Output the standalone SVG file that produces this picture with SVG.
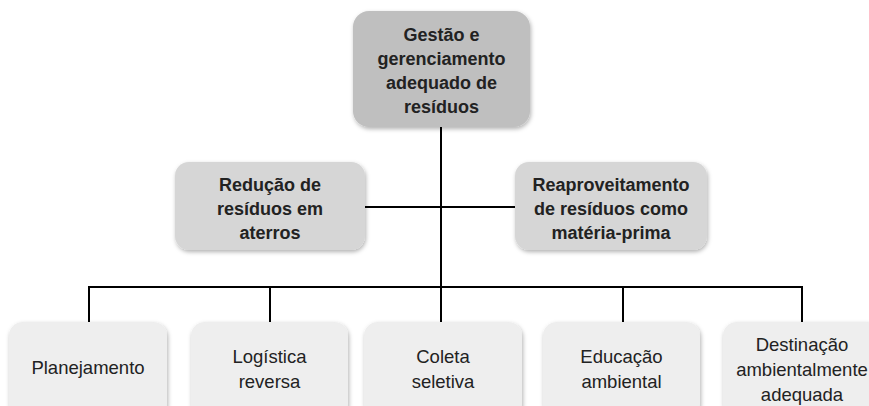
<svg xmlns="http://www.w3.org/2000/svg" width="869" height="406" viewBox="0 0 869 406">
<defs>
<filter id="sh" x="-10%" y="-10%" width="125%" height="130%">
<feDropShadow dx="1" dy="2" stdDeviation="2" flood-color="#000" flood-opacity="0.3"/>
</filter>
<style>
.box{stroke:none;filter:url(#sh)}
.l1{fill:#bfbfbf}
.l2{fill:#d6d6d6}
.l3{fill:#eeeeee}
.tb{font-family:"Liberation Sans",Arial,sans-serif;font-weight:bold;font-size:18px;fill:#222;text-anchor:middle}
.tr{font-family:"Liberation Sans",Arial,sans-serif;font-size:18.5px;fill:#222;text-anchor:middle}
.c{stroke:#000;stroke-width:2;fill:none}
</style>
</defs>
<rect width="869" height="406" fill="#fff"/>
<g id="connectors">
<line class="c" x1="441" y1="127" x2="441" y2="322"/>
<line class="c" x1="365" y1="207" x2="515" y2="207"/>
<polyline class="c" points="89,322 89,287 802,287 802,322"/>
<line class="c" x1="270" y1="287" x2="270" y2="322"/>
<line class="c" x1="623" y1="287" x2="623" y2="322"/>
</g>
<g id="root">
<rect class="box l1" x="353" y="11" width="177" height="116" rx="16"/>
<text class="tb" x="441.5" y="41">Gestão e</text>
<text class="tb" x="441.5" y="65">gerenciamento</text>
<text class="tb" x="441.5" y="89">adequado de</text>
<text class="tb" x="441.5" y="113">resíduos</text>
</g>
<g id="reducao">
<rect class="box l2" x="175" y="162" width="190" height="88" rx="14"/>
<text class="tb" x="270" y="191">Redução de</text>
<text class="tb" x="270" y="215">resíduos em</text>
<text class="tb" x="270" y="239">aterros</text>
</g>
<g id="reaproveitamento">
<rect class="box l2" x="515" y="162" width="192" height="88" rx="14"/>
<text class="tb" x="611" y="191">Reaproveitamento</text>
<text class="tb" x="611" y="215">de resíduos como</text>
<text class="tb" x="611" y="239">matéria-prima</text>
</g>
<g id="planejamento">
<rect class="box l3" x="9" y="322" width="158" height="96" rx="14"/>
<text class="tr" x="88" y="374">Planejamento</text>
</g>
<g id="logistica">
<rect class="box l3" x="191" y="322" width="157" height="96" rx="14"/>
<text class="tr" x="269.5" y="363">Logística</text>
<text class="tr" x="269.5" y="388">reversa</text>
</g>
<g id="coleta">
<rect class="box l3" x="364" y="322" width="158" height="96" rx="14"/>
<text class="tr" x="443" y="363">Coleta</text>
<text class="tr" x="443" y="388">seletiva</text>
</g>
<g id="educacao">
<rect class="box l3" x="543" y="322" width="157" height="96" rx="14"/>
<text class="tr" x="621.5" y="363">Educação</text>
<text class="tr" x="621.5" y="388">ambiental</text>
</g>
<g id="destinacao">
<rect class="box l3" x="723" y="322" width="158" height="96" rx="14"/>
<text class="tr" x="802" y="351">Destinação</text>
<text class="tr" x="802" y="376">ambientalmente</text>
<text class="tr" x="802" y="401">adequada</text>
</g>
</svg>
